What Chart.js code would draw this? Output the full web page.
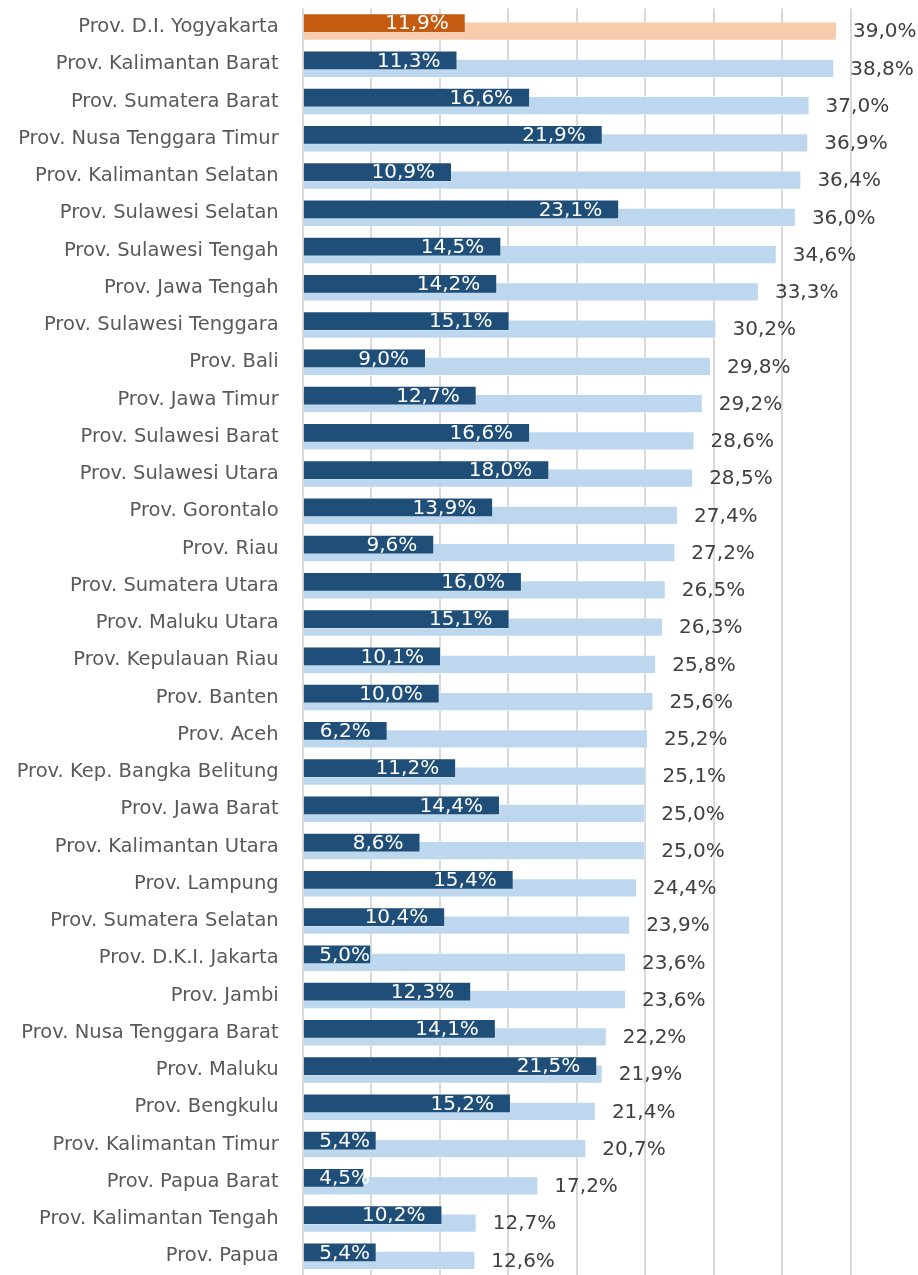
<!DOCTYPE HTML>
<html lang="id">
<head>
    <meta charset="utf-8">
    <title>Provinsi</title>
    <script src="https://cdn.jsdelivr.net/npm/chart.js@4.4.1/dist/chart.umd.min.js"></script>
    <style>
        body {
            margin: 0;
            background: #ffffff;
        }

        #chart-box {
            width: 918px;
            height: 1275px;
        }
    </style>
</head>
<body>
    <div id="chart-box">
        <canvas id="prov-chart"></canvas>
    </div>

    <script>
        const provinces = [
            'Prov. D.I. Yogyakarta', 'Prov. Kalimantan Barat', 'Prov. Sumatera Barat',
            'Prov. Nusa Tenggara Timur', 'Prov. Kalimantan Selatan', 'Prov. Sulawesi Selatan',
            'Prov. Sulawesi Tengah', 'Prov. Jawa Tengah', 'Prov. Sulawesi Tenggara',
            'Prov. Bali', 'Prov. Jawa Timur', 'Prov. Sulawesi Barat',
            'Prov. Sulawesi Utara', 'Prov. Gorontalo', 'Prov. Riau',
            'Prov. Sumatera Utara', 'Prov. Maluku Utara', 'Prov. Kepulauan Riau',
            'Prov. Banten', 'Prov. Aceh', 'Prov. Kep. Bangka Belitung',
            'Prov. Jawa Barat', 'Prov. Kalimantan Utara', 'Prov. Lampung',
            'Prov. Sumatera Selatan', 'Prov. D.K.I. Jakarta', 'Prov. Jambi',
            'Prov. Nusa Tenggara Barat', 'Prov. Maluku', 'Prov. Bengkulu',
            'Prov. Kalimantan Timur', 'Prov. Papua Barat', 'Prov. Kalimantan Tengah',
            'Prov. Papua'
        ];

        // dark (front) bars
        const innerValues = [
            11.9, 11.3, 16.6, 21.9, 10.9, 23.1, 14.5, 14.2, 15.1, 9.0,
            12.7, 16.6, 18.0, 13.9, 9.6, 16.0, 15.1, 10.1, 10.0, 6.2,
            11.2, 14.4, 8.6, 15.4, 10.4, 5.0, 12.3, 14.1, 21.5, 15.2,
            5.4, 4.5, 10.2, 5.4
        ];

        // light (back) bars
        const outerValues = [
            39.0, 38.8, 37.0, 36.9, 36.4, 36.0, 34.6, 33.3, 30.2, 29.8,
            29.2, 28.6, 28.5, 27.4, 27.2, 26.5, 26.3, 25.8, 25.6, 25.2,
            25.1, 25.0, 25.0, 24.4, 23.9, 23.6, 23.6, 22.2, 21.9, 21.4,
            20.7, 17.2, 12.7, 12.6
        ];

        const axisMin = 0;
        const axisMax = 40;
        const axisStep = 5;
        const highlightIndex = 0;

        const darkBlue = '#1f4e79';
        const lightBlue = '#bdd7ee';
        const darkOrange = '#c55a11';
        const lightOrange = '#f8cbad';

        const innerColors = provinces.map((p, i) => i === highlightIndex ? darkOrange : darkBlue);
        const outerColors = provinces.map((p, i) => i === highlightIndex ? lightOrange : lightBlue);

        function fmtPct(v) {
            return v.toFixed(1).replace('.', ',') + '%';
        }

        // value labels: white inside the end of the dark bar, grey outside the light bar
        const barLabels = {
            id: 'barLabels',
            afterDatasetsDraw(chart) {
                const ctx = chart.ctx;
                ctx.save();
                ctx.font = '20px "DejaVu Sans"';
                ctx.textBaseline = 'middle';

                const inner = chart.getDatasetMeta(0);
                inner.data.forEach((bar, i) => {
                    const p = bar.getProps(['x', 'y', 'base'], true);
                    const txt = fmtPct(innerValues[i]);
                    const w = ctx.measureText(txt).width;
                    const right = Math.max(p.x - 17, p.base + 15.5 + w);
                    ctx.fillStyle = '#ffffff';
                    ctx.textAlign = 'right';
                    ctx.fillText(txt, right, p.y + 1);
                });

                const outer = chart.getDatasetMeta(1);
                outer.data.forEach((bar, i) => {
                    const p = bar.getProps(['x', 'y'], true);
                    ctx.fillStyle = '#404040';
                    ctx.textAlign = 'left';
                    ctx.fillText(fmtPct(outerValues[i]), p.x + 16, p.y + 1);
                });
                ctx.restore();
            }
        };

        new Chart(document.getElementById('prov-chart'), {
            type: 'bar',
            data: {
                labels: provinces,
                datasets: [{
                    data: innerValues,
                    backgroundColor: innerColors,
                    borderColor: 'rgba(255, 255, 255, 0.2)',
                    borderWidth: 1,
                    categoryPercentage: 0.4295,
                    barPercentage: 2.5
                }, {
                    data: outerValues,
                    backgroundColor: outerColors,
                    borderColor: 'rgba(255, 255, 255, 0.45)',
                    borderWidth: 1,
                    categoryPercentage: 0.4295,
                    barPercentage: 2.43
                }]
            },
            options: {
                indexAxis: 'y',
                responsive: true,
                maintainAspectRatio: false,
                animation: false,
                layout: {
                    padding: { top: 8.5, right: 67.3, bottom: 0, left: 0 }
                },
                plugins: {
                    legend: { display: false },
                    tooltip: { enabled: false }
                },
                scales: {
                    x: {
                        min: axisMin,
                        max: axisMax,
                        ticks: { display: false, stepSize: axisStep },
                        grid: { color: '#d9d9d9', lineWidth: 2, drawTicks: false },
                        border: { display: false },
                        afterFit(scale) {
                            scale.height = 0;
                            scale.paddingLeft = 0;
                            scale.paddingRight = 0;
                        }
                    },
                    y: {
                        grid: { display: false },
                        border: { display: false },
                        ticks: {
                            autoSkip: false,
                            padding: 16,
                            color: '#595959',
                            font: { family: '"DejaVu Sans"', size: 19.5 }
                        },
                        afterFit(scale) {
                            scale.width = 302.7;
                            scale.paddingTop = 0;
                            scale.paddingBottom = 0;
                        }
                    }
                }
            },
            plugins: [barLabels]
        });
    </script>
</body>
</html>
